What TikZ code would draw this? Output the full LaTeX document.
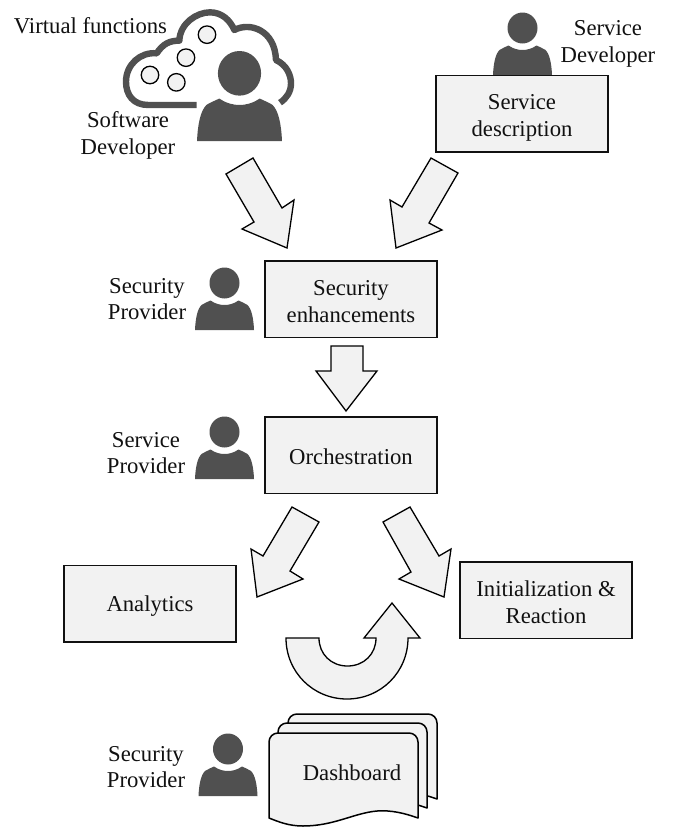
\documentclass[tikz,border=0pt]{standalone}
\usepackage{fontspec}
\setmainfont{Liberation Serif}
\definecolor{boxfill}{HTML}{F2F2F2}
\definecolor{persongray}{HTML}{505050}
\definecolor{inkdark}{HTML}{111111}
\tikzset{
  label text/.style={align=center,inner sep=0pt,text=inkdark,font=\fontsize{22.7}{26.5}\selectfont},
  procbox/.style={draw=inkdark,line width=1.5pt,fill=boxfill,inner sep=0pt,minimum width=172pt,minimum height=76.5pt},
  blockarrow/.style={draw=black,line width=1.3pt,fill=boxfill,line join=miter},
  vfcircle/.style={draw=black,line width=1.3pt,fill=boxfill},
  persona/.pic={
    \fill[persongray] (0,-47) ellipse [x radius=15,y radius=15.5];
    \fill[persongray] (-29.5,0) .. controls (-29,-12) and (-27,-21) .. (-23,-25)
      .. controls (-20,-27) and (-17,-28) .. (-14,-29.5)
      .. controls (-9,-26) and (-4,-25) .. (0,-25)
      .. controls (4,-25) and (9,-26) .. (14,-29.5)
      .. controls (17,-28) and (20,-27) .. (23,-25)
      .. controls (27,-21) and (29,-12) .. (29.5,0) -- cycle;
  },
  docpage/.pic={
    \draw[line width=1.5pt,draw=black,fill=boxfill,line join=round]
      (0,85) -- (0,9) .. controls (0,4) and (4,0) .. (9,0) -- (140,0)
      .. controls (145,0) and (149,4) .. (149,9) -- (149,85)
      .. controls (135,80) and (122,77) .. (108,78)
      .. controls (85,80) and (65,93) .. (34,93)
      .. controls (20,93) and (10,89) .. (0,85) -- cycle;
  },
}
\begin{document}
\begin{tikzpicture}[x=1pt,y=-1pt]
\useasboundingbox (0,0) rectangle (673,827);

% cloud
\begin{scope}[x=0.33333pt,y=-0.33333pt]
\draw[persongray,line width=6.4pt,line cap=butt,line join=round]
  (590,315) -- (445,315) .. controls (400,315) and (378,285) .. (378,245)
  .. controls (378,195) and (420,155) .. (470,160)
  .. controls (490,130) and (510,122) .. (538,122)
  .. controls (540,70) and (590,37) .. (630,37)
  .. controls (665,37) and (690,60) .. (703,90)
  .. controls (750,65) and (825,90) .. (828,180)
  .. controls (860,195) and (873,225) .. (873,250)
  .. controls (873,275) and (860,295) .. (840,308);
\node[vfcircle,circle,minimum size=17.5pt,inner sep=0pt] (vf1) at (621,104) {};
\node[vfcircle,circle,minimum size=17.5pt,inner sep=0pt] (vf2) at (558,173) {};
\node[vfcircle,circle,minimum size=17.5pt,inner sep=0pt] (vf3) at (450,225) {};
\node[vfcircle,circle,minimum size=17.5pt,inner sep=0pt] (vf4) at (529,247) {};
\end{scope}

% persons
\pic[scale=1.44] at (239.5,141) {persona};
\pic at (522.5,75) {persona};
\pic at (224.5,330) {persona};
\pic at (224.5,479) {persona};
\pic at (228,796) {persona};

% boxes
\node[procbox] (service) at (522,113.5) {};
\node[procbox] (security) at (351,299) {};
\node[procbox] (orch) at (351,455) {};
\node[procbox] (analytics) at (150,603.5) {};
\node[procbox] (init) at (546,600) {};
\node[label text,yshift=-4.5pt] (tservice) at (service) {Service\\description};
\node[label text,yshift=-2.5pt] (tsecurity) at (security) {Security\\enhancements};
\node[label text,yshift=-2pt] (torch) at (orch) {Orchestration};
\node[label text,yshift=-3pt] (tanalytics) at (analytics) {Analytics};
\node[label text,yshift=-2pt] (tinit) at (init) {Initialization \&\\Reaction};

% labels
\node[label text] (lvf) at (90.5,26) {Virtual functions};
\node[label text] (lsw) at (128,135.5) {Software\\Developer};
\node[label text] (lsd) at (608,44) {Service\\Developer};
\node[label text] (lsp1) at (147,299) {Security\\Provider};
\node[label text] (lsvp) at (146,453) {Service\\Provider};
\node[label text] (lsp2) at (146,767) {Security\\Provider};

% block arrows
\draw[blockarrow] (226,174) -- (253,158) -- (282,208) -- (294,200) -- (287,248) -- (242,229) -- (254,222) -- cycle;
\draw[blockarrow] (431,158) -- (458,173) -- (429,223) -- (442,230) -- (396,248) -- (390,200) -- (402,207) -- cycle;
\draw[blockarrow] (331,346) -- (363,346) -- (363,371) -- (377,371) -- (346,411) -- (316,371) -- (331,371) -- cycle;
\draw[blockarrow] (292,507) -- (319,522) -- (290,571) -- (303,579) -- (257,597) -- (251,549) -- (263,556) -- cycle;
\draw[blockarrow] (410,507) -- (383,522) -- (411,572) -- (399,579) -- (444,597) -- (451,549) -- (439,556) -- cycle;
\draw[blockarrow] (286,638) -- (319,638)
  .. controls (319,654) and (331,666) .. (347.5,666)
  .. controls (364,666) and (376,654) .. (376,638)
  -- (364,638) -- (392,603) -- (420,638) -- (408,638)
  .. controls (408,672) and (381,699) .. (347,699)
  .. controls (313,699) and (286,672) .. (286,638) -- cycle;

% dashboard
\pic at (288,714) {docpage};
\pic at (278,723) {docpage};
\pic at (269,733) {docpage};
\node[label text] (dash) at (352,773) {Dashboard};
\end{tikzpicture}
\end{document}
